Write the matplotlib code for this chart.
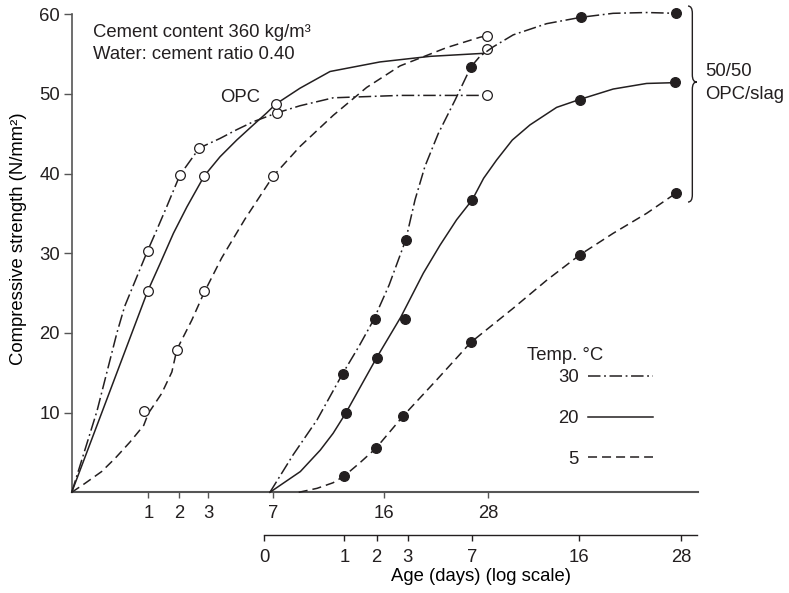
#!/usr/bin/env python3
"""Strength development of OPC and 50/50 OPC/slag concrete at 5, 20 and 30 C."""

import matplotlib
matplotlib.use("Agg")
import matplotlib.pyplot as plt
import numpy as np
from matplotlib.lines import Line2D
from matplotlib.patches import PathPatch
from matplotlib.path import Path

INK = "#231f20"
AXIS_GREY = "#555555"

plt.rcParams["font.family"] = ["Liberation Sans", "DejaVu Sans"]
plt.rcParams["font.size"] = 13.3
plt.rcParams["text.color"] = INK
plt.rcParams["lines.scale_dashes"] = False

# hand-drawn age axes (roughly square-root spaced); tick ages and their spacing
AXIS_AGES = [0, 1, 2, 3, 7, 16, 28]
OPC_AXIS_POS = [0, 76.6, 107.6, 136.6, 201.6, 312.6, 416.6]
SLAG_AXIS_POS = [0, 80, 112.4, 143.4, 207.4, 315, 416.7]

OPC_TICKS = [1, 2, 3, 7, 16, 28]
SLAG_TICKS = [0, 1, 2, 3, 7, 16, 28]
TEMPS = ["30", "20", "5"]

# ---- OPC, measured points (open circles) ----
OPC30_AGE = [0.99, 2.02, 2.69, 7.28, 27.9]
OPC30_STR = [30.3, 39.8, 43.2, 47.6, 49.8]
OPC20_AGE = [0.99, 2.86, 7.19, 27.9]
OPC20_STR = [25.2, 39.7, 48.7, 55.6]
OPC5_AGE = [0.95, 1.92, 2.86, 7.0, 27.9]
OPC5_STR = [10.2, 17.9, 25.2, 39.7, 57.3]

# ---- OPC, drawn curves ----
OPC30_CURVE_AGE = [0, 0.33, 0.59, 0.69, 0.87, 0.99, 1.27, 1.59, 2.02, 2.69,
                   3.72, 4.75, 5.77, 7.28, 9.16, 11.86, 17.81, 27.9]
OPC30_CURVE_STR = [0, 10.2, 20.0, 23.3, 27.5, 30.3, 32.9, 35.8, 39.8, 43.2,
                   44.4, 45.5, 46.5, 47.6, 48.5, 49.5, 49.8, 49.8]
OPC20_CURVE_AGE = [0, 0.99, 1.38, 1.81, 2.26, 2.86, 3.72, 4.75, 5.77, 6.59,
                   7.19, 9.16, 11.6, 15.65, 21.27, 27.8]
OPC20_CURVE_STR = [0, 25.2, 28.7, 32.5, 35.8, 39.7, 42.1, 44.2, 46.1, 47.6,
                   48.7, 50.7, 52.8, 54.0, 54.7, 55.1]
OPC5_CURVE_AGE = [0, 0.17, 0.39, 0.57, 0.76, 0.94, 1.0, 1.43, 1.76, 1.92,
                  2.43, 2.86, 3.82, 5.26, 7.0, 9.17, 11.86, 14.57, 17.81,
                  23.2, 27.04, 27.9]
OPC5_CURVE_STR = [0, 1.1, 2.6, 4.3, 6.3, 8.4, 9.9, 12.4, 15.1, 17.9,
                  21.6, 25.1, 29.4, 34.3, 39.7, 43.4, 47.3, 50.8, 53.5,
                  55.8, 57.1, 57.3]

# ---- 50/50 OPC/slag, measured points (filled circles) ----
SLAG30_AGE = [0.98, 1.95, 2.94, 6.96, 16.2, 27.4]
SLAG30_STR = [14.9, 21.8, 31.7, 53.4, 59.6, 60.1]
SLAG20_AGE = [1.04, 2.0, 2.91, 7.05, 16.1, 27.3]
SLAG20_STR = [9.9, 16.9, 21.8, 36.7, 49.2, 51.5]
SLAG5_AGE = [1.0, 1.97, 2.86, 6.94, 16.1, 27.4]
SLAG5_STR = [2.05, 5.5, 9.6, 18.8, 29.8, 37.5]

# ---- 50/50 OPC/slag, drawn curves ----
SLAG30_CURVE_AGE = [0.07, 0.36, 0.66, 0.98, 1.45, 1.9, 2.4, 2.94, 3.46, 4.08,
                    4.91, 5.96, 6.96, 7.69, 8.81, 10.48, 13.27, 16.2, 20.0,
                    23.95, 27.37]
SLAG30_CURVE_STR = [0, 4.7, 9.1, 14.9, 18.3, 21.6, 26.0, 31.7, 36.7, 40.9,
                    45.0, 49.2, 53.4, 54.7, 55.9, 57.4, 58.8, 59.6, 60.1,
                    60.2, 60.1]
SLAG20_CURVE_AGE = [0.07, 0.45, 0.70, 0.86, 1.04, 2.0, 2.78, 3.98, 5.02,
                    6.06, 7.05, 8.0, 9.09, 10.4, 11.88, 14.11, 16.08, 20.01,
                    23.95, 27.29]
SLAG20_CURVE_STR = [0, 2.6, 5.3, 7.4, 9.9, 16.9, 22.0, 27.5, 31.0,
                    34.2, 36.7, 39.4, 41.7, 44.2, 46.1, 48.3, 49.3, 50.6,
                    51.3, 51.4]
SLAG5_CURVE_AGE = [0.43, 0.66, 0.86, 1.0, 1.48, 1.97, 2.86, 4.81, 6.94,
                   10.48, 13.27, 16.08, 20.01, 23.95, 27.37]
SLAG5_CURVE_STR = [0, 0.5, 1.2, 2.05, 3.7, 5.5, 9.6, 14.1, 18.8,
                   23.1, 26.6, 29.8, 32.5, 35.0, 37.5]

DASHDOT = (0, (9, 2.6, 1.3, 2.6))
DASHED = (0, (6.5, 3.6))
SOLID = "-"
STYLES = [DASHDOT, SOLID, DASHED]


def age_scale(pos):
    ages = np.asarray(AXIS_AGES, float)
    pos = np.asarray(pos, float)
    slope = (pos[-1] - pos[-2]) / (ages[-1] - ages[-2])

    def forward(a):
        a = np.asarray(a, float)
        return np.where(a > ages[-1], pos[-1] + (a - ages[-1]) * slope,
                        np.interp(a, ages, pos))

    def inverse(p):
        p = np.asarray(p, float)
        return np.where(p > pos[-1], ages[-1] + (p - pos[-1]) / slope,
                        np.interp(p, pos, ages))

    return forward, inverse


def draw_series(ax, curve_x, curve_y, pts_x, pts_y, style, filled):
    ax.plot(curve_x, curve_y, color=INK, linestyle=style, linewidth=1.1,
            clip_on=False, zorder=3)
    ax.plot(pts_x, pts_y, linestyle="none", marker="o", markersize=7,
            markeredgewidth=0.9, markeredgecolor=INK,
            markerfacecolor=INK if filled else "white",
            clip_on=False, zorder=4)


fig = plt.figure(figsize=(7.89, 5.93), dpi=100)

# OPC axes (upper age axis)
ax = fig.add_axes([0.0909, 0.1698, 0.7938, 0.8064])
ax.set_xscale("function", functions=age_scale(OPC_AXIS_POS))
ax.set_xlim(0, 52.2)
ax.set_ylim(0, 60)
ax.set_xticks(OPC_TICKS)
ax.set_xticklabels([str(t) for t in OPC_TICKS])
ax.xaxis.set_minor_locator(plt.NullLocator())
ax.set_yticks([10, 20, 30, 40, 50, 60])
ax.yaxis.set_minor_locator(plt.NullLocator())
for side in ("top", "right"):
    ax.spines[side].set_visible(False)
ax.spines["bottom"].set_color(AXIS_GREY)
ax.spines["bottom"].set_linewidth(1.5)
ax.spines["left"].set_color(AXIS_GREY)
ax.spines["left"].set_linewidth(1.2)
ax.tick_params(axis="x", direction="out", length=4.3, width=1.0,
               color=AXIS_GREY, pad=5, labelcolor=INK)
ax.tick_params(axis="y", direction="out", length=6, width=1.0,
               color=AXIS_GREY, pad=2.5, labelcolor=INK)
ax.set_ylabel("Compressive strength (N/mm²)")
ax.yaxis.set_label_coords(-0.071, 0.53)

draw_series(ax, OPC30_CURVE_AGE, OPC30_CURVE_STR, OPC30_AGE, OPC30_STR, DASHDOT, False)
draw_series(ax, OPC20_CURVE_AGE, OPC20_CURVE_STR, OPC20_AGE, OPC20_STR, SOLID, False)
draw_series(ax, OPC5_CURVE_AGE, OPC5_CURVE_STR, OPC5_AGE, OPC5_STR, DASHED, False)

# OPC/slag axes (lower age axis, starts where the OPC axis reads 7)
ax2 = fig.add_axes([0.335, 0.1698, 0.5484, 0.8064])
ax2.patch.set_visible(False)
ax2.set_xscale("function", functions=age_scale(SLAG_AXIS_POS))
ax2.set_xlim(0, 29.9)
ax2.set_ylim(0, 60)
ax2.set_xticks(SLAG_TICKS)
ax2.set_xticklabels([str(t) for t in SLAG_TICKS])
ax2.xaxis.set_minor_locator(plt.NullLocator())
ax2.yaxis.set_visible(False)
for side in ("top", "right", "left"):
    ax2.spines[side].set_visible(False)
ax2.spines["bottom"].set_position(("outward", 30.7))
ax2.spines["bottom"].set_color(INK)
ax2.spines["bottom"].set_linewidth(1.0)
ax2.tick_params(axis="x", direction="out", length=4.3, width=1.0,
                color=INK, pad=5.5, labelcolor=INK)
ax2.set_xlabel("Age (days) (log scale)", labelpad=2)

draw_series(ax2, SLAG30_CURVE_AGE, SLAG30_CURVE_STR, SLAG30_AGE, SLAG30_STR, DASHDOT, True)
draw_series(ax2, SLAG20_CURVE_AGE, SLAG20_CURVE_STR, SLAG20_AGE, SLAG20_STR, SOLID, True)
draw_series(ax2, SLAG5_CURVE_AGE, SLAG5_CURVE_STR, SLAG5_AGE, SLAG5_STR, DASHED, True)

# annotations
ax.text(0.0335, 0.953, "Cement content 360 kg/m³", transform=ax.transAxes, va="baseline")
ax.text(0.0335, 0.907, "Water: cement ratio 0.40", transform=ax.transAxes, va="baseline")
ax.text(0.2687, 0.8168, "OPC", transform=ax.transAxes, ha="center", va="baseline")
ax.text(1.0112, 0.8706, "50/50", transform=ax.transAxes, va="baseline", clip_on=False)
ax.text(1.0112, 0.8218, "OPC/slag", transform=ax.transAxes, va="baseline", clip_on=False)

# curly brace grouping the OPC/slag curves
x0, x1, x2 = 0.984, 0.9909, 0.9979
ytop, ytip, ybot, d = 1.0169, 0.858, 0.607, 0.015
brace = Path(
    [(x0, ytop), (x1, ytop), (x1, ytop - d), (x1, ytip + d), (x1, ytip),
     (x2, ytip), (x1, ytip), (x1, ytip - d), (x1, ybot + d), (x1, ybot),
     (x0, ybot)],
    [Path.MOVETO, Path.CURVE3, Path.CURVE3, Path.LINETO, Path.CURVE3,
     Path.CURVE3, Path.CURVE3, Path.CURVE3, Path.LINETO, Path.CURVE3,
     Path.CURVE3],
)
ax.add_patch(PathPatch(brace, transform=ax.transAxes, facecolor="none",
                       edgecolor=INK, linewidth=1.0, clip_on=False))

# temperature key
ax.text(0.727, 0.2767, "Temp. °C", transform=ax.transAxes, va="baseline")
handles = [Line2D([], [], color=INK, linestyle=s, linewidth=1.1) for s in STYLES]
ax.legend(handles, TEMPS, loc="upper right", bbox_to_anchor=(0.9282, 0.257),
          frameon=False, markerfirst=False, handlelength=3.52,
          handletextpad=0.49, labelspacing=1.28, borderpad=0,
          borderaxespad=0)

fig.savefig("out.png", dpi=100)
